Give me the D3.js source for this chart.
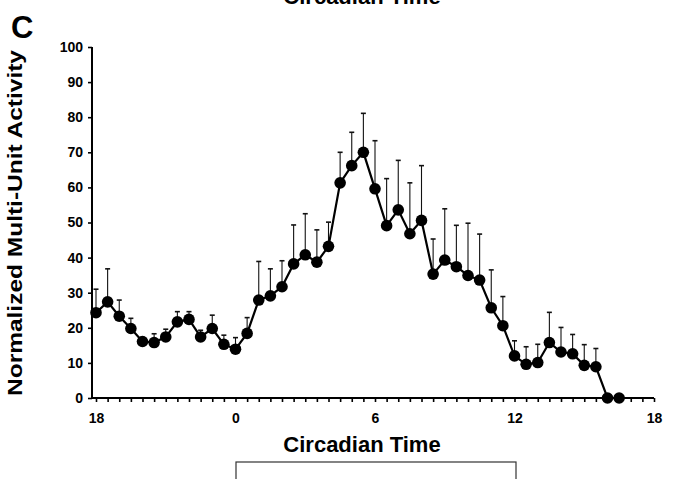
<!DOCTYPE html>
<html><head><meta charset="utf-8">
<script src="https://cdn.jsdelivr.net/npm/d3@7/dist/d3.min.js"></script>
<style>html,body{margin:0;padding:0;background:#fff;}svg{display:block;}</style>
</head><body>
<svg id="chart" width="676" height="479"></svg>
<script>
// Circadian time (hours, CT18 shown as -6)
const times = [-6,-5.5,-5,-4.5,-4,-3.5,-3,-2.5,-2,-1.5,-1,-0.5,0,0.5,1,1.5,2,2.5,3,3.5,4,4.5,5,5.5,6,6.5,7,7.5,8,8.5,9,9.5,10,10.5,11,11.5,12,12.5,13,13.5,14,14.5,15,15.5,16,16.5];
const activity = [24.3,27.4,23.3,19.8,16.1,15.8,17.4,21.7,22.4,17.4,19.8,15.3,13.9,18.4,27.9,29.1,31.7,38.2,40.8,38.7,43.2,61.3,66.2,70.0,59.6,49.1,53.6,46.8,50.6,35.3,39.3,37.4,34.9,33.6,25.7,20.6,12.0,9.6,10.1,15.8,13.1,12.6,9.3,8.9,0,0];
const sem = [6.7,9.4,4.6,2.9,1.1,2.5,2.2,2.9,2.2,1.9,3.8,2.6,3.3,4.5,11.0,7.7,7.4,11.1,11.7,9.2,6.9,8.7,9.5,11.1,13.7,13.4,14.1,14.5,15.6,10.0,14.6,11.8,14.9,13.1,10.8,8.3,4.3,5.0,5.2,8.6,7.0,5.5,5.9,5.2,0,0];
const xLabelValues = [-6,0,6,12,18];
const xLabelText = ["18","0","6","12","18"];
const yTicks = [0,10,20,30,40,50,60,70,80,90,100];

const svg = d3.select("#chart");
const x = d3.scaleLinear().domain([-6,18]).range([96,654]);
const y = d3.scaleLinear().domain([0,100]).range([398,47]);
const axisX0 = 92;

const font = "'Liberation Sans', Arial, Helvetica, sans-serif";

// Y axis
const yAxis = d3.axisLeft(y).tickValues(yTicks).tickSize(4).tickPadding(5).tickFormat(d3.format("d"));
const gy = svg.append("g").attr("transform", `translate(${axisX0},0)`).call(yAxis);
gy.select(".domain").remove();
gy.append("line").attr("x1",0).attr("x2",0).attr("y1",y(0)).attr("y2",y(100)).attr("stroke","#000").attr("stroke-width",2);
gy.selectAll(".tick line").attr("stroke","#000").attr("stroke-width",1.6);
gy.selectAll(".tick text").attr("font-family",font).attr("font-size",14).attr("fill","#000").attr("font-weight","bold");

// X axis
const xTickVals = d3.range(-6, 18.001, 0.5);
const xAxis = d3.axisBottom(x).tickValues(xTickVals).tickSize(4).tickPadding(11)
  .tickFormat(d => { const i = xLabelValues.indexOf(d); return i >= 0 ? xLabelText[i] : ""; });
const gx = svg.append("g").attr("transform", `translate(0,${y(0)})`).call(xAxis);
gx.select(".domain").remove();
gx.append("line").attr("x1",axisX0).attr("x2",x(18)).attr("y1",0).attr("y2",0).attr("stroke","#000").attr("stroke-width",2);
gx.selectAll(".tick line").attr("stroke","#000").attr("stroke-width",1.6);
gx.selectAll(".tick text").attr("font-family",font).attr("font-size",14).attr("fill","#000").attr("font-weight","bold");

// Error bars (upper only)
const pts = times.map((t,i)=>({t, v:activity[i], e:sem[i]}));
const eb = svg.append("g");
pts.filter(d=>d.e>0).forEach(d=>{
  eb.append("line").attr("x1",x(d.t)).attr("x2",x(d.t)).attr("y1",y(d.v)).attr("y2",y(d.v+d.e)).attr("stroke","#111").attr("stroke-width",1.1);
  eb.append("line").attr("x1",x(d.t)-2.5).attr("x2",x(d.t)+2.5).attr("y1",y(d.v+d.e)).attr("y2",y(d.v+d.e)).attr("stroke","#111").attr("stroke-width",1.6);
});

// Line
const line = d3.line().x(d=>x(d.t)).y(d=>y(d.v));
svg.append("path").datum(pts).attr("d",line).attr("fill","none").attr("stroke","#000").attr("stroke-width",2.2);

// Points
svg.append("g").selectAll("circle").data(pts).join("circle")
  .attr("cx",d=>x(d.t)).attr("cy",d=>y(d.v)).attr("r",5.8).attr("fill","#000");

// Axis titles
svg.append("text").attr("x",362).attr("y",452).attr("text-anchor","middle")
  .attr("font-family",font).attr("font-weight","bold").attr("font-size",22).text("Circadian Time");
svg.append("text").attr("x",362).attr("y",4).attr("text-anchor","middle")
  .attr("font-family",font).attr("font-weight","bold").attr("font-size",22).text("Circadian Time");
svg.append("text").attr("transform","translate(22,223) rotate(-90)").attr("text-anchor","middle")
  .attr("font-family",font).attr("font-weight","bold").attr("font-size",21)
  .attr("textLength",346).attr("lengthAdjust","spacingAndGlyphs").text("Normalized Multi-Unit Activity");
svg.append("text").attr("x",11).attr("y",38)
  .attr("font-family",font).attr("font-weight","bold").attr("font-size",31).text("C");

// Box below (partially visible)
svg.append("rect").attr("x",236).attr("y",462).attr("width",280).attr("height",40)
  .attr("fill","none").attr("stroke","#333").attr("stroke-width",1.2);
</script>
</body></html>
